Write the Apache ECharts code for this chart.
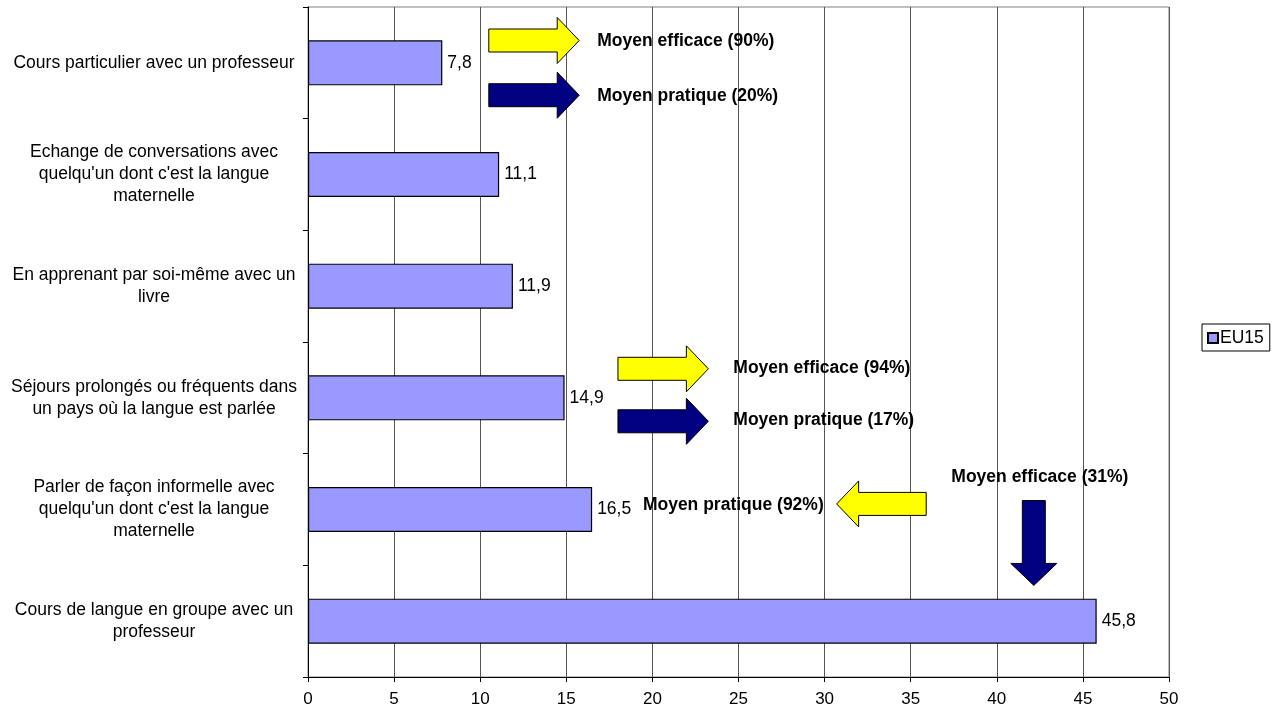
<!DOCTYPE html>
<html>
<head>
    <meta charset="utf-8">
    <script type="text/javascript" src="https://cdn.jsdelivr.net/npm/echarts@6/dist/echarts.min.js"></script>
</head>
<body style="margin:0; background-color:#fff">
<div id="main" style="width: 1287px; height: 710px;"></div>
<script type="text/javascript">
    var categories = [
        'Cours particulier avec un professeur',
        'Echange de conversations avec\nquelqu\'un dont c\'est la langue\nmaternelle',
        'En apprenant par soi-même avec un\nlivre',
        'Séjours prolongés ou fréquents dans\nun pays où la langue est parlée',
        'Parler de façon informelle avec\nquelqu\'un dont c\'est la langue\nmaternelle',
        'Cours de langue en groupe avec un\nprofesseur'
    ];
    var eu15 = [7.8, 11.1, 11.9, 14.9, 16.5, 45.8];
    var xTicks = [0, 5, 10, 15, 20, 25, 30, 35, 40, 45, 50];

    // annotations: value on x axis, category index + offset in band units
    var arrows = [
        {color: '#FFFF00', from: [10.5, 0, -0.2], to: [15.75, 0, -0.2]},
        {color: '#000080', from: [10.5, 0, 0.29], to: [15.75, 0, 0.29]},
        {color: '#FFFF00', from: [18.0, 3, -0.26], to: [23.25, 3, -0.26]},
        {color: '#000080', from: [18.0, 3, 0.21], to: [23.25, 3, 0.21]},
        {color: '#FFFF00', from: [35.9, 4, -0.05], to: [30.7, 4, -0.05]},
        {color: '#000080', from: [42.15, 4, -0.08], to: [42.15, 4, 0.68]}
    ];
    var notes = [
        {text: 'Moyen efficace (90%)', at: [16.8, 0, -0.19], align: 'left'},
        {text: 'Moyen pratique (20%)', at: [16.8, 0, 0.30], align: 'left'},
        {text: 'Moyen efficace (94%)', at: [24.7, 3, -0.27], align: 'left'},
        {text: 'Moyen pratique (17%)', at: [24.7, 3, 0.20], align: 'left'},
        {text: 'Moyen pratique (92%)', at: [29.95, 4, -0.04], align: 'right'},
        {text: 'Moyen efficace (31%)', at: [42.5, 4, -0.29], align: 'center'}
    ];

    var myChart = echarts.init(document.getElementById('main'));
    var font = 'Arial, "Liberation Sans", sans-serif';
    var option = {
        animation: false,
        backgroundColor: '#fff',
        textStyle: {fontFamily: font},
        grid: {left: 308, top: 7, right: 118, bottom: 33, show: true, borderColor: '#808080', borderWidth: 1},
        legend: {
            left: 1202, top: 324, orient: 'vertical',
            data: [{name: 'EU15', icon: 'rect'}],
            borderColor: '#000', borderWidth: 1, padding: [5, 6, 4, 5],
            itemWidth: 10, itemHeight: 10, itemGap: 4,
            textStyle: {fontSize: 17.5, color: '#000', fontFamily: font, padding: [0, 0, 0, -3]}
        },
        xAxis: {
            type: 'value', min: 0, max: 50, interval: 5,
            axisLine: {show: true, lineStyle: {color: '#000'}},
            axisTick: {show: true, length: 5, lineStyle: {color: '#000'}},
            axisLabel: {fontSize: 17, color: '#000', margin: 14, fontFamily: font,
                formatter: function (v) { return xTicks.indexOf(v) >= 0 ? String(v) : ''; }},
            splitLine: {show: true, lineStyle: {color: '#555', width: 1}}
        },
        yAxis: {
            type: 'category', inverse: true, data: categories,
            axisLine: {show: true, lineStyle: {color: '#000'}},
            axisTick: {show: true, length: 5, lineStyle: {color: '#000'}},
            axisLabel: {fontSize: 17.5, color: '#000', margin: 154, align: 'center', lineHeight: 22, fontFamily: font},
            splitLine: {show: false}
        },
        series: [{
            name: 'EU15', type: 'bar', data: eu15, barWidth: 45,
            itemStyle: {color: '#9999FF', borderColor: '#000', borderWidth: 1.2},
            label: {show: true, position: 'right', distance: 5, fontSize: 17.5, color: '#000', fontFamily: font,
                formatter: function (p) { return String(p.value).replace('.', ','); }}
        }]
    };
    myChart.setOption(option);

    function toPx(spec) {
        var a = myChart.convertToPixel({gridIndex: 0}, [spec[0], spec[1]]);
        var other = spec[1] + 1 < categories.length ? spec[1] + 1 : spec[1] - 1;
        var b = myChart.convertToPixel({gridIndex: 0}, [spec[0], other]);
        var band = Math.abs(b[1] - a[1]);
        return [a[0], a[1] + spec[2] * band];
    }

    function arrowPoints(p0, p1) {
        var dx = p1[0] - p0[0], dy = p1[1] - p0[1];
        var len = Math.sqrt(dx * dx + dy * dy);
        var ux = dx / len, uy = dy / len, nx = -uy, ny = ux;
        var head = 22, sh = 11.5, hh = 23;
        var pts = [[0, -sh], [len - head, -sh], [len - head, -hh], [len, 0], [len - head, hh], [len - head, sh], [0, sh]];
        return pts.map(function (q) {
            return [p0[0] + ux * q[0] + nx * q[1], p0[1] + uy * q[0] + ny * q[1]];
        });
    }

    var graphics = [];
    arrows.forEach(function (a) {
        graphics.push({
            type: 'polygon', z: 100,
            shape: {points: arrowPoints(toPx(a.from), toPx(a.to))},
            style: {fill: a.color, stroke: '#000', lineWidth: 1}
        });
    });
    notes.forEach(function (n) {
        var p = toPx(n.at);
        graphics.push({
            type: 'text', z: 100, x: p[0], y: p[1],
            style: {text: n.text, fill: '#000', font: 'bold 17.5px ' + font, align: n.align, verticalAlign: 'middle'}
        });
    });
    myChart.setOption({graphic: graphics});
</script>
</body>
</html>
